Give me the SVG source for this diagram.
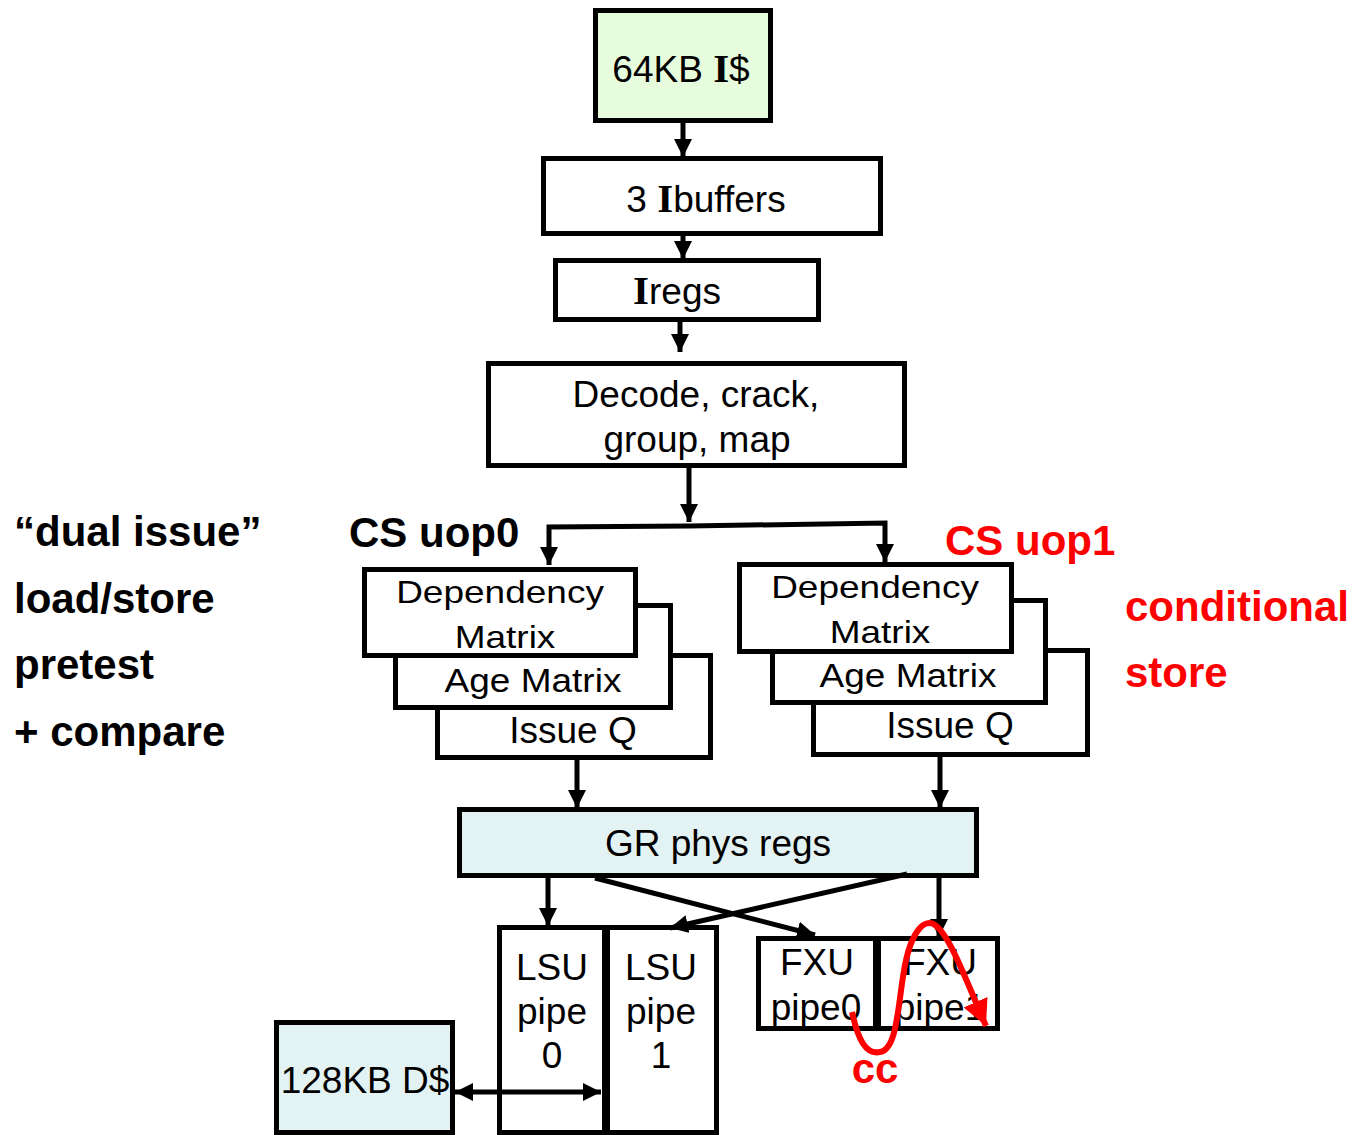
<svg xmlns="http://www.w3.org/2000/svg" width="1366" height="1135" viewBox="0 0 1366 1135">
<style>
.box{fill:#ffffff;stroke:#000;stroke-width:5}
.t{font-family:"Liberation Sans",Arial,sans-serif;font-size:37px;fill:#000;text-anchor:middle}
.b{font-family:"Liberation Sans",Arial,sans-serif;font-size:42px;font-weight:bold;fill:#000}
.r{fill:#ff0000}
.s{font-family:"Liberation Serif","Times New Roman",serif;font-weight:bold;font-size:41px}
.c{fill:none;stroke:#000;stroke-width:5}
</style>
<defs>
<marker id="ah" markerUnits="userSpaceOnUse" markerWidth="20" markerHeight="18" refX="18" refY="9" orient="auto"><path d="M0,0 L18,9 L0,18 z" fill="#000"/></marker>
<marker id="ahs" markerUnits="userSpaceOnUse" markerWidth="20" markerHeight="18" refX="2" refY="9" orient="auto"><path d="M20,0 L2,9 L20,18 z" fill="#000"/></marker>
<marker id="ahr" markerUnits="userSpaceOnUse" markerWidth="28" markerHeight="26" refX="26" refY="13" orient="auto"><path d="M0,0 L26,13 L0,26 z" fill="#ff0000"/></marker>
</defs>
<g id="labels">
<text class="b" x="14" y="546">“dual issue”</text>
<text class="b" x="14" y="613">load/store</text>
<text class="b" x="14" y="679">pretest</text>
<text class="b" x="14" y="746">+ compare</text>
<text class="b" x="349" y="547">CS uop0</text>
<text class="b r" x="945" y="555">CS uop1</text>
<text class="b r" x="1125" y="621">conditional</text>
<text class="b r" x="1125" y="687">store</text>
</g>
<g id="icache"><rect class="box" x="595.5" y="10.5" width="175" height="110" style="fill:#e6fcdc"/><text class="t" x="681" y="82">64KB <tspan class="s">I</tspan>$</text></g>
<g id="ibuffers"><rect class="box" x="543.5" y="158.5" width="337" height="75"/><text class="t" x="706" y="212">3 <tspan class="s">I</tspan>buffers</text></g>
<g id="iregs"><rect class="box" x="555.5" y="260.5" width="263" height="59"/><text class="t" x="677" y="304"><tspan class="s">I</tspan>regs</text></g>
<g id="decode"><rect class="box" x="488.5" y="363.5" width="416" height="102"/><text class="t" x="696" y="407">Decode, crack,</text><text class="t" x="697" y="452">group, map</text></g>
<g id="uop0">
<rect class="box" x="437.5" y="655.5" width="273" height="102"/>
<rect class="box" x="395.5" y="605.5" width="275" height="102"/>
<rect class="box" x="364.5" y="569.5" width="271" height="86"/>
<text class="t" transform="translate(500,603) scale(1,0.83)">Dependency</text>
<text class="t" transform="translate(505,648) scale(1,0.83)">Matrix</text>
<text class="t" transform="translate(533,692) scale(1,0.9)">Age Matrix</text>
<text class="t" x="573" y="743">Issue Q</text>
</g>
<g id="uop1">
<rect class="box" x="813.5" y="650.5" width="274" height="104"/>
<rect class="box" x="772.5" y="600.5" width="273" height="102"/>
<rect class="box" x="739.5" y="564.5" width="272" height="87"/>
<text class="t" transform="translate(875,598) scale(1,0.83)">Dependency</text>
<text class="t" transform="translate(880,643) scale(1,0.83)">Matrix</text>
<text class="t" transform="translate(908,687) scale(1,0.9)">Age Matrix</text>
<text class="t" x="950" y="738">Issue Q</text>
</g>
<g id="gr"><rect class="box" x="459.5" y="809.5" width="517" height="66" style="fill:#e3f3f3"/><text class="t" x="718" y="856">GR phys regs</text></g>
<g id="lsu0"><rect class="box" x="499.5" y="927.5" width="105" height="205"/><text class="t" x="552" y="980">LSU</text><text class="t" x="552" y="1024">pipe</text><text class="t" x="552" y="1068">0</text></g>
<g id="lsu1"><rect class="box" x="607.5" y="927.5" width="109" height="205"/><text class="t" x="661" y="980">LSU</text><text class="t" x="661" y="1024">pipe</text><text class="t" x="661" y="1068">1</text></g>
<g id="fxu0"><rect class="box" x="758.5" y="938.5" width="117" height="90"/><text class="t" x="817" y="975">FXU</text><text class="t" x="816" y="1020">pipe0</text></g>
<g id="fxu1"><rect class="box" x="878.5" y="938.5" width="119" height="90"/><text class="t" x="940" y="975">FXU</text><text class="t" x="940" y="1020">pipe1</text></g>
<g id="dcache"><rect class="box" x="276.5" y="1022.5" width="176" height="110" style="fill:#e3f3f3"/><text class="t" x="365" y="1093">128KB D$</text></g>
<g id="connectors">
<line class="c" x1="683" y1="123" x2="683" y2="157" marker-end="url(#ah)"/>
<line class="c" x1="683" y1="236" x2="683" y2="259" marker-end="url(#ah)"/>
<line class="c" x1="680" y1="322" x2="680" y2="352" marker-end="url(#ah)"/>
<line class="c" x1="689" y1="468" x2="689" y2="522" marker-end="url(#ah)"/>
<path class="c" d="M689,526 L549,527 L549,565" marker-end="url(#ah)"/>
<path class="c" d="M689,526 L885,523 L885,562" marker-end="url(#ah)"/>
<line class="c" x1="577" y1="760" x2="577" y2="808" marker-end="url(#ah)"/>
<line class="c" x1="940" y1="757" x2="940" y2="808" marker-end="url(#ah)"/>
<line class="c" x1="548" y1="878" x2="548" y2="926" marker-end="url(#ah)"/>
<line class="c" x1="939" y1="878" x2="939" y2="937" marker-end="url(#ah)"/>
<line class="c" x1="595" y1="878" x2="815" y2="935" marker-end="url(#ah)"/>
<line class="c" x1="907" y1="874" x2="670" y2="928" marker-end="url(#ah)"/>
<line class="c" x1="455" y1="1092" x2="601" y2="1092" marker-start="url(#ahs)" marker-end="url(#ah)"/>
<path d="M852,1012 C858,1040 866,1055 880,1052 C898,1050 898,1000 905,965 C912,930 925,918 935,925 C950,935 968,985 986,1026" fill="none" stroke="#ff0000" stroke-width="6" marker-end="url(#ahr)"/>
</g>
<text class="b r" x="875" y="1083" text-anchor="middle">cc</text>
</svg>
